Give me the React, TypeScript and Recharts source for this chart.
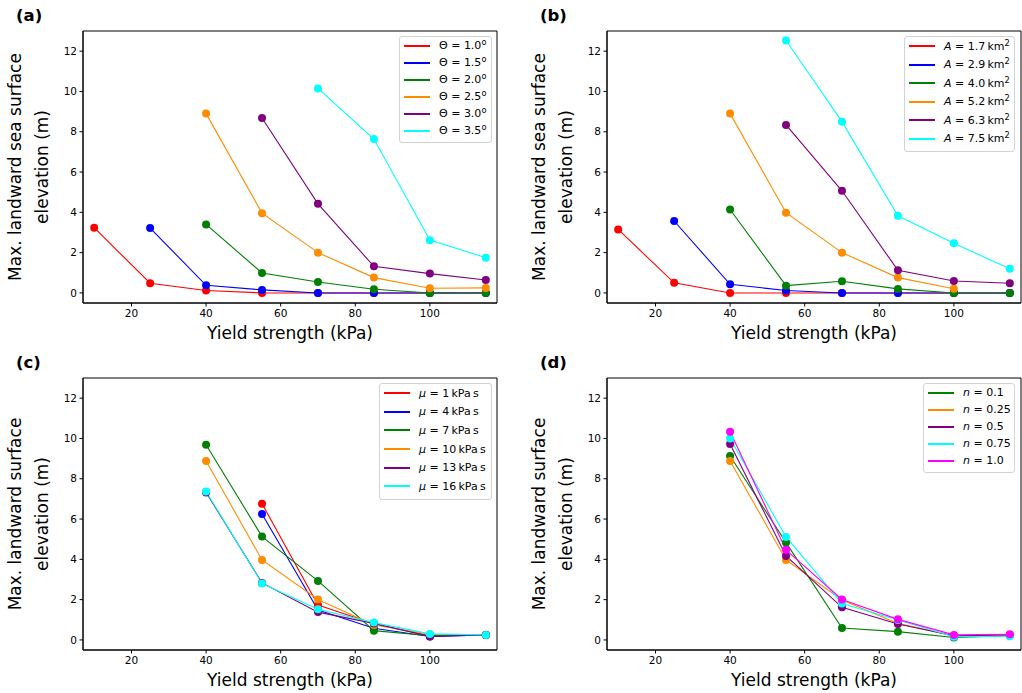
import React from 'react';
import { LineChart, Line, XAxis, YAxis, ReferenceArea, Legend } from 'recharts';

// shared axes
const yieldStrength = [10, 25, 40, 55, 70, 85, 100, 115];
const xTicks = [20, 40, 60, 80, 100];
const yTicks = [0, 2, 4, 6, 8, 10, 12];
const xDomain: [number, number] = [7, 118];
const yDomain: [number, number] = [-0.5, 13];

// (a) slope angle
const thetaLabels = ['1.0', '1.5', '2.0', '2.5', '3.0', '3.5'];
const theta10 = [3.24, 0.48, 0.12, 0.0, 0.0, 0.0, 0.0, 0.0];
const theta15 = [null, 3.22, 0.38, 0.15, 0.0, 0.0, 0.0, 0.0];
const theta20 = [null, null, 3.4, 0.99, 0.54, 0.18, 0.0, 0.0];
const theta25 = [null, null, 8.9, 3.96, 2.0, 0.76, 0.23, 0.25];
const theta30 = [null, null, null, 8.68, 4.42, 1.32, 0.96, 0.64];
const theta35 = [null, null, null, null, 10.15, 7.64, 2.62, 1.75];

// (b) failure area
const areaLabels = ['1.7', '2.9', '4.0', '5.2', '6.3', '7.5'];
const area17 = [3.15, 0.5, 0.0, 0.0, 0.0, 0.0, 0.0, 0.0];
const area29 = [null, 3.57, 0.43, 0.12, 0.0, 0.0, 0.0, 0.0];
const area40 = [null, null, 4.14, 0.36, 0.58, 0.2, 0.0, 0.0];
const area52 = [null, null, 8.9, 3.98, 2.0, 0.76, 0.21, null];
const area63 = [null, null, null, 8.34, 5.07, 1.12, 0.59, 0.48];
const area75 = [null, null, null, 12.53, 8.5, 3.83, 2.46, 1.2];

// (c) viscosity
const muLabels = ['1', '4', '7', '10', '13', '16'];
const mu1 = [null, null, null, 6.76, 1.73, 0.8, 0.2, 0.25];
const mu4 = [null, null, null, 6.25, 1.48, 0.58, 0.17, 0.25];
const mu7 = [null, null, 9.69, 5.13, 2.93, 0.46, 0.21, 0.25];
const mu10 = [null, null, 8.88, 3.97, 2.01, 0.74, 0.28, 0.25];
const mu13 = [null, null, 7.32, 2.83, 1.38, 0.82, 0.17, 0.25];
const mu16 = [null, null, 7.37, 2.8, 1.52, 0.86, 0.3, 0.25];

// (d) flow index
const nLabels = ['0.1', '0.25', '0.5', '0.75', '1.0'];
const n01 = [null, null, 9.13, 4.83, 0.59, 0.41, 0.12, 0.21];
const n025 = [null, null, 8.88, 3.97, 1.98, 0.82, 0.2, 0.25];
const n05 = [null, null, 9.72, 4.17, 1.62, 0.79, 0.21, 0.25];
const n075 = [null, null, 10.0, 5.11, 1.81, 0.99, 0.16, 0.18];
const n10 = [null, null, 10.33, 4.47, 2.01, 1.02, 0.25, 0.28];

const sixColors = ['#ff0000', '#0000ff', '#008000', '#ff8c00', '#800080', '#00ffff'];
const nColors = ['#008000', '#ff8c00', '#800080', '#00ffff', '#ff00ff'];

const FONT = '"DejaVu Sans", sans-serif';
const W = 511;
const H = 346;
const PW = 414;
const PH = 272;

function buildRows(series: (number | null)[][]) {
  return yieldStrength.map((x, i) => {
    const row: Record<string, number | null> = { x };
    series.forEach((s, k) => {
      row['s' + k] = s[i];
    });
    return row;
  });
}

interface PanelProps {
  letter: string;
  left: number;
  top: number;
  plotLeft: number;
  plotTop: number;
  series: (number | null)[][];
  colors: string[];
  labels: React.ReactNode[];
  legendBox: { left: number; top: number; width: number; rowH: number; padTop: number };
  yLabel: string[];
}

function Panel({ letter, left, top, plotLeft, plotTop, series, colors, labels, legendBox, yLabel }: PanelProps) {
  const rows = buildRows(series);
  const margin = {
    left: plotLeft - 30,
    right: W - plotLeft - PW,
    top: plotTop,
    bottom: H - plotTop - PH - 30,
  };
  const cy = plotTop + PH / 2;

  const legendContent = () => (
    <div
      style={{
        width: legendBox.width,
        boxSizing: 'border-box',
        border: '1px solid #d3d3d3',
        borderRadius: 3,
        background: 'rgba(255,255,255,0.8)',
        paddingTop: legendBox.padTop,
        paddingBottom: 3,
        fontFamily: FONT,
        fontSize: 11,
        color: '#000',
      }}
    >
      {labels.map((lab, k) => (
        <div key={k} style={{ display: 'flex', alignItems: 'center', height: legendBox.rowH, whiteSpace: 'nowrap' }}>
          <div style={{ width: 26, height: 2, marginLeft: 4, background: colors[k] }} />
          <div style={{ marginLeft: 9 }}>{lab}</div>
        </div>
      ))}
    </div>
  );

  return (
    <div style={{ position: 'absolute', left, top, width: W, height: H, fontFamily: FONT }}>
      <div style={{ position: 'absolute', left: plotLeft - 67, top: plotTop - 25, fontSize: 16.5, fontWeight: 'bold' }}>
        {letter}
      </div>
      {yLabel.map((t, i) => (
        <div
          key={i}
          style={{
            position: 'absolute',
            left: plotLeft - (i === 0 ? 68 : 41),
            top: cy,
            fontSize: 17,
            whiteSpace: 'nowrap',
            transform: 'translate(-50%, -50%) rotate(-90deg)',
          }}
        >
          {t}
        </div>
      ))}
      <div
        style={{
          position: 'absolute',
          left: plotLeft + PW / 2,
          top: plotTop + PH + 30,
          fontSize: 17,
          whiteSpace: 'nowrap',
          transform: 'translate(-50%, -50%)',
        }}
      >
        Yield strength (kPa)
      </div>
      <LineChart width={W} height={H} data={rows} margin={margin}>
        <XAxis
          type="number"
          dataKey="x"
          domain={xDomain}
          ticks={xTicks}
          allowDataOverflow
          height={30}
          tick={{ fontSize: 10.5, fill: '#000', fontFamily: FONT }}
          tickSize={3.5}
          tickMargin={3}
          stroke="#000"
        />
        <YAxis
          type="number"
          domain={yDomain}
          ticks={yTicks}
          allowDataOverflow
          width={30}
          tick={{ fontSize: 10.5, fill: '#000', fontFamily: FONT }}
          tickSize={3.5}
          tickMargin={2.5}
          stroke="#000"
        />
        {series.map((_, k) => (
          <Line
            key={k}
            dataKey={'s' + k}
            stroke={colors[k]}
            strokeWidth={1.1}
            dot={{ r: 4, fill: colors[k], stroke: 'none' }}
            activeDot={false}
            connectNulls={false}
            isAnimationActive={false}
          />
        ))}
        <ReferenceArea
          x1={xDomain[0]}
          x2={xDomain[1]}
          y1={yDomain[0]}
          y2={yDomain[1]}
          fill="none"
          stroke="#000"
          strokeWidth={1}
          fillOpacity={0}
          ifOverflow="visible"
        />
        <Legend
          layout="horizontal"
          verticalAlign="middle"
          align="center"
          content={legendContent}
          wrapperStyle={{ left: legendBox.left, top: legendBox.top, width: legendBox.width, height: 'auto' }}
        />
      </LineChart>
    </div>
  );
}

const sup: React.CSSProperties = { fontSize: '0.75em', verticalAlign: '0.5em', lineHeight: 0 };

export default function App() {
  const thetaLegend = thetaLabels.map((v) => (
    <span>
      Θ = {v}
      <span style={sup}>o</span>
    </span>
  ));
  const areaLegend = areaLabels.map((v) => (
    <span>
      <i>A</i> = {v}
      {'\u2009'}km<span style={sup}>2</span>
    </span>
  ));
  const muLegend = muLabels.map((v) => (
    <span>
      <i>μ</i> = {v}
      {'\u2009'}kPa{'\u2009'}s
    </span>
  ));
  const nLegend = nLabels.map((v) => (
    <span>
      <i>n</i> = {v}
    </span>
  ));

  return (
    <div style={{ position: 'absolute', left: 0, top: 0, width: 1022, height: 693, background: '#fff' }}>
      <Panel
        letter="(a)"
        left={0}
        top={0}
        plotLeft={83}
        plotTop={31}
        series={[theta10, theta15, theta20, theta25, theta30, theta35]}
        colors={sixColors}
        labels={thetaLegend}
        legendBox={{ left: 399, top: 36, width: 93, rowH: 17, padTop: 0 }}
        yLabel={['Max. landward sea surface', 'elevation (m)']}
      />
      <Panel
        letter="(b)"
        left={511}
        top={0}
        plotLeft={96}
        plotTop={31}
        series={[area17, area29, area40, area52, area63, area75]}
        colors={sixColors}
        labels={areaLegend}
        legendBox={{ left: 393, top: 36, width: 111, rowH: 18.5, padTop: 0 }}
        yLabel={['Max. landward sea surface', 'elevation (m)']}
      />
      <Panel
        letter="(c)"
        left={0}
        top={346}
        plotLeft={83}
        plotTop={32}
        series={[mu1, mu4, mu7, mu10, mu13, mu16]}
        colors={sixColors}
        labels={muLegend}
        legendBox={{ left: 379, top: 37, width: 113, rowH: 18.6, padTop: 0 }}
        yLabel={['Max. landward surface', 'elevation (m)']}
      />
      <Panel
        letter="(d)"
        left={511}
        top={346}
        plotLeft={96}
        plotTop={32}
        series={[n01, n025, n05, n075, n10]}
        colors={nColors}
        labels={nLegend}
        legendBox={{ left: 412, top: 37, width: 92, rowH: 17.1, padTop: 0 }}
        yLabel={['Max. landward surface', 'elevation (m)']}
      />
    </div>
  );
}
